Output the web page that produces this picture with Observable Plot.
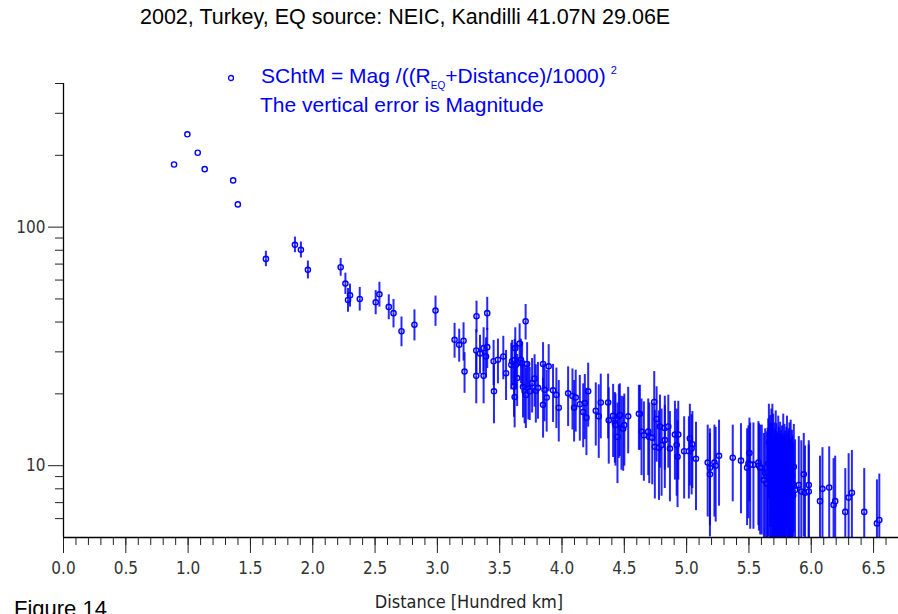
<!DOCTYPE html>
<html>
<head>
<meta charset="utf-8">
<script src="https://cdn.jsdelivr.net/npm/d3@7"></script>
<script src="https://cdn.jsdelivr.net/npm/@observablehq/plot@0.6"></script>
<style>
  html, body { margin: 0; padding: 0; background: #fff; }
  #wrap { position: relative; width: 898px; height: 614px; overflow: hidden; font-family: "Liberation Sans", Arial, sans-serif; }
  .t { position: absolute; white-space: nowrap; line-height: 1; }
  #title { left: 140px; top: 7px; font-size: 21.5px; color: #000; }
  #leg1 { left: 261px; top: 65px; font-size: 21px; color: #0000f0; }
  #leg2 { left: 260px; top: 94px; font-size: 21px; color: #0000f0; }
  #legmark { left: 226px; top: 70px; }
  #xlab { left: 319px; width: 300px; text-align: center; top: 593px; font-size: 18px; color: #222;
          font-family: "Liberation Sans Narrow", "Arial Narrow", "DejaVu Sans Condensed", sans-serif; }
  #fig { left: 14px; top: 598px; font-size: 22px; color: #000; }
  sub { font-size: 10px; vertical-align: -6px; }
  sup { font-size: 11px; vertical-align: 9px; margin-left: 5px; }
</style>
</head>
<body>
<div id="wrap">
  <div id="chart"></div>
  <div class="t" id="title">2002, Turkey, EQ source: NEIC, Kandilli 41.07N 29.06E</div>
  <div class="t" id="legmark"><svg width="10" height="10"><circle cx="5" cy="5" r="2.5" fill="white" stroke="#0000ff" stroke-width="1.3"/></svg></div>
  <div class="t" id="leg1">SChtM = Mag /((R<sub>EQ</sub>+Distance)/1000)<sup>2</sup></div>
  <div class="t" id="leg2">The vertical error is Magnitude</div>
  <div class="t" id="xlab">Distance [Hundred km]</div>
  <div class="t" id="fig">Figure 14</div>
</div>
<script>
// Distance [hundred km]
const dist = [
  0.887, 0.994, 1.077, 1.133, 1.361, 1.399, 1.624, 1.857, 1.905, 1.961,
  2.224, 2.262, 2.299, 2.283, 2.377, 2.505, 2.535, 2.610, 2.648, 2.712,
  2.816, 2.985, 3.138, 3.175, 3.210, 3.218, 3.314, 3.400, 3.312, 3.342,
  3.312, 3.371, 3.390, 3.400, 3.371, 3.451, 3.486, 3.454, 3.529, 3.551,
  3.708, 3.660, 3.625, 3.593, 3.600, 3.620, 3.630, 3.670, 3.680, 3.720,
  3.640, 3.615, 3.620, 3.687, 3.700, 3.730, 3.710, 3.760, 3.790, 3.780,
  3.741, 3.848, 3.893, 3.807, 3.860, 3.848, 3.928, 3.955, 3.974, 3.877,
  4.049, 4.084, 4.110, 4.097, 4.143, 4.183, 4.210, 4.170, 4.196, 4.271,
  4.295, 4.311, 4.370, 4.375, 4.410, 4.424, 4.456, 4.477, 4.531, 4.625,
  4.464, 4.429, 4.445, 4.491, 4.500, 4.617, 4.740, 4.759, 4.638, 4.657,
  4.692, 4.700, 4.724, 4.745, 4.778, 4.799, 4.786, 4.825, 4.853, 4.825,
  4.866, 4.906, 4.933, 4.920, 4.927, 4.980, 5.018, 5.026, 5.046, 5.040,
  5.075, 5.169, 5.187, 5.187, 5.223, 5.233, 5.260, 5.370, 5.436, 5.504,
  5.496, 5.485, 5.536, 5.576, 5.603, 5.510, 5.580, 5.590, 5.620, 5.630,
  5.660, 5.670, 5.650, 5.720, 5.740, 5.760, 5.790, 5.820, 5.820, 5.870,
  5.860, 5.900, 5.920, 5.940, 5.950, 5.980, 5.980, 6.070, 6.090, 6.144,
  6.179, 6.192, 6.273, 6.300, 6.326, 6.425, 6.527, 6.546,
  5.645, 5.655, 5.668, 5.675, 5.680, 5.685, 5.690, 5.695, 5.700, 5.705,
  5.710, 5.715, 5.720, 5.725, 5.730, 5.735, 5.745, 5.750, 5.755, 5.765,
  5.770, 5.775, 5.780, 5.785, 5.795, 5.800, 5.805, 5.810, 5.815, 5.825,
  5.830, 5.835, 5.840, 5.845, 5.850, 5.855, 5.688
];
// SChtM values
const schtm = [
  183, 245, 205, 175, 157, 124.5, 73.6, 84.3, 80.3, 66.2,
  67.9, 58, 51.8, 49.5, 50, 48.4, 52.3, 46.3, 43.6, 36.6,
  39, 44.7, 33.7, 32.1, 33.4, 24.8, 42.3, 43.6, 30.4, 29.5,
  23.8, 31.1, 28.7, 31.4, 23.8, 27.4, 27.8, 20.5, 28.7, 24.4,
  40.3, 32.5, 31.1, 26.5, 27.4, 27.7, 26.5, 27.8, 26.9, 26.7,
  23.3, 21.5, 19.4, 21.4, 20.5, 21.1, 19.8, 22.2, 20.6, 23.2,
  20.5, 26.7, 26.1, 21.2, 20.8, 18.0, 20.7, 19.8, 17.5, 19.3,
  20.1, 19.6, 19.3, 17.5, 18.1, 18.3, 20.5, 16.8, 15.9, 17.0,
  16.1, 18.4, 18.4, 15.5, 16.2, 15.1, 16.1, 14.4, 16.1, 16.5,
  16.3, 14.8, 13.2, 14.3, 14.8, 16.5, 18.5, 15.7, 13.9, 13.4,
  13.9, 13.2, 13.1, 12.0, 11.9, 12.2, 14.6, 14.4, 14.6, 12.8,
  11.8, 13.5, 13.5, 12.2, 10.9, 11.5, 11.5, 13.0, 12.3, 11.8,
  10.7, 10.3, 9.8, 9.2, 10.3, 10.0, 11.0, 10.8, 10.5, 11.3,
  10.2, 9.8, 10.1, 10.3, 9.8, 10.1, 10.0, 9.8, 8.7, 9.3,
  12.5, 10.7, 9.4, 8.2, 9.0, 8.2, 8.5, 8.8, 8.5, 7.9,
  9.9, 8.3, 7.8, 9.2, 7.7, 8.3, 7.8, 7.1, 8.0, 8.1,
  6.85, 7.1, 6.4, 7.35, 7.7, 6.4, 5.73, 5.92,
  8.4, 10.2, 9.0, 8.1, 11.2, 9.6, 8.6, 10.4, 7.9, 9.1,
  8.8, 10.9, 9.5, 7.6, 8.4, 10.1, 8.0, 9.7, 8.6, 9.2,
  7.7, 10.4, 8.1, 9.4, 7.9, 9.0, 10.6, 8.2, 7.6, 9.6,
  8.0, 10.0, 7.8, 9.1, 8.4, 7.5, 12.0
];
// Magnitude (vertical error, +/-)
const mag = [
  3, 3, 3, 3, 4, 4, 3, 3.5, 3.5, 3.5,
  3.5, 4, 4, 4, 4, 4, 4.5, 4, 4.5, 4,
  4.5, 5, 4.5, 4, 5, 4, 5, 5.5, 5.5, 4.5,
  5, 5.5, 4.5, 5, 5, 5, 5, 5, 5, 5,
  5.5, 5.5, 5.5, 5, 5, 5, 5, 5, 5, 5,
  5, 5, 4.5, 5, 5, 5, 5, 5, 5, 5,
  4.5, 5, 5, 5, 5, 4.5, 5, 5, 4.5, 5,
  5, 5, 5, 4.5, 5, 5, 5.5, 4.5, 4.5, 4.5,
  5, 5, 5, 5, 5, 4.5, 5, 4.5, 4.5, 4.5,
  5, 4.5, 4.5, 4.5, 4.5, 4.5, 5.5, 5, 4.5, 4.5,
  4.5, 4.5, 4.5, 4.5, 4.5, 4.5, 4.5, 4.5, 4.5, 4.5,
  4.5, 4.5, 4.5, 4.5, 4, 4, 4, 4.5, 4, 4,
  4, 4, 4, 4, 4, 4, 4, 3.5, 4, 4,
  4, 4, 4.5, 4.5, 4.5, 4.5, 4.5, 4.5, 4.5, 4.5,
  5, 5, 4.5, 5, 5, 5, 5, 5, 5, 4.5,
  4.5, 4.5, 4.5, 4, 4, 4, 4, 3.5, 3.5, 3.5,
  3.5, 3.5, 3, 3.5, 3.5, 3, 2.7, 3,
  5, 5, 5.5, 5, 5.5, 5, 5, 5.5, 5, 5.5,
  5, 5.5, 5, 5, 5, 5.5, 5, 5, 5, 5,
  5, 5.5, 5, 5, 5, 5, 5, 5, 4.5, 5,
  4.5, 5, 4.5, 4.5, 4.5, 4.5, 5.5
];
const xMajorTicks = d3.range(0, 6.51, 0.5);
const xMinorTicks = d3.range(0, 6.71, 0.1);
const yMajorTicks = [10, 100];
const yMinorTicks = [6, 7, 8, 9, 20, 30, 40, 50, 60, 70, 80, 90, 200, 300, 400];

const data = dist.map((d, i) => ({x: d, y: schtm[i], e: mag[i]}));
const blue = "#0000ff";

const chart = Plot.plot({
  width: 898,
  height: 614,
  marginTop: 83,
  marginBottom: 77,
  marginLeft: 63,
  marginRight: 0,
  style: {
    fontFamily: '"Liberation Sans Narrow", "Arial Narrow", "DejaVu Sans Condensed", sans-serif',
    fontSize: "17px",
    color: "#222",
    background: "transparent",
    overflow: "visible"
  },
  x: {domain: [0, 6.7]},
  y: {type: "log", domain: [5, 400]},
  marks: [
    Plot.dot(data, {x: "x", y: "y", r: 2.6, fill: "white", stroke: blue, strokeWidth: 1.4, clip: true}),
    // upper and lower halves of each error bar, leaving the bar's own marker open;
    // bars shorter than the marker are hidden behind it
    Plot.ruleX(data, {filter: d => (d.y + d.e) / d.y > 1.036, x: "x", y1: "y", y2: d => d.y + d.e, insetBottom: 3.5, stroke: blue, strokeWidth: 2, strokeOpacity: 0.85, clip: true}),
    Plot.ruleX(data, {filter: d => d.y / (d.y - d.e) > 1.036, x: "x", y1: d => d.y - d.e, y2: "y", insetTop: 3.5, stroke: blue, strokeWidth: 2, strokeOpacity: 0.85, clip: true}),
    Plot.axisX({ticks: xMinorTicks, tickSize: 8, tickFormat: () => "", label: null}),
    Plot.axisX({ticks: xMajorTicks, tickSize: 16, tickPadding: 8, tickFormat: d => d.toFixed(1), label: null, fill: "#333"}),
    Plot.axisY({ticks: yMinorTicks, tickSize: 8, tickFormat: () => "", label: null}),
    Plot.axisY({ticks: yMajorTicks, tickSize: 15, tickPadding: 3, tickFormat: d => String(d), label: null, fill: "#333"}),
    Plot.ruleY([5], {stroke: "#000", strokeWidth: 1.3}),
    Plot.ruleX([0], {stroke: "#000", strokeWidth: 1.3})
  ]
});
document.getElementById("chart").appendChild(chart);
</script>
</body>
</html>
